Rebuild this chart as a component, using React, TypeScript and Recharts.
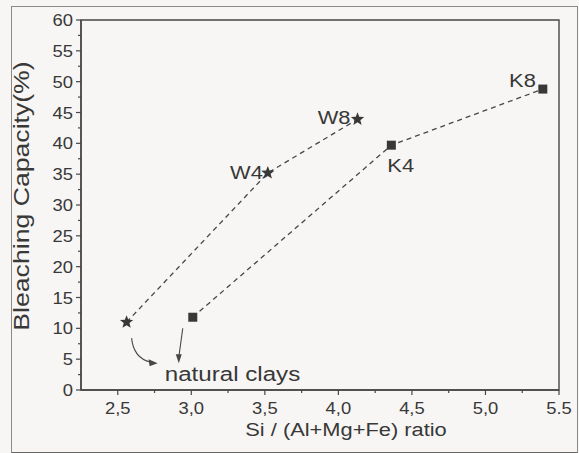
import { ScatterChart, Scatter, XAxis, YAxis, ReferenceArea, ReferenceDot } from "recharts";

// series
const W_RATIO = [2.56, 3.52, 4.13];
const W_BLEACH = [11.0, 35.2, 43.9];
const W_NAMES = ["", "W4", "W8"];

const K_RATIO = [3.01, 4.36, 5.39];
const K_BLEACH = [11.8, 39.7, 48.8];
const K_NAMES = ["", "K4", "K8"];

const X_TICKS = [2.5, 2.75, 3, 3.25, 3.5, 3.75, 4, 4.25, 4.5, 4.75, 5, 5.25, 5.5];
const Y_TICKS = [
  0, 2.5, 5, 7.5, 10, 12.5, 15, 17.5, 20, 22.5, 25, 27.5, 30,
  32.5, 35, 37.5, 40, 42.5, 45, 47.5, 50, 52.5, 55, 57.5, 60,
];

const INK = "#383838";
const LINE = "#474747";
const FONT = "'Liberation Sans', Arial, sans-serif";
const SX = 1.15; // the scan is a bit wider than it is tall

const wData = W_RATIO.map((x, i) => ({ x, y: W_BLEACH[i], name: W_NAMES[i] }));
const kData = K_RATIO.map((x, i) => ({ x, y: K_BLEACH[i], name: K_NAMES[i] }));

// where each point label sits relative to its marker
const LABEL_POS: Record<string, { dx: number; dy: number; anchor: "start" | "end" }> = {
  W4: { dx: -5, dy: 6, anchor: "end" },
  W8: { dx: -7, dy: 5, anchor: "end" },
  K4: { dx: -4, dy: 27, anchor: "start" },
  K8: { dx: -7, dy: -2, anchor: "end" },
};

function SText({ x, y, size, anchor = "start", children }: any) {
  return (
    <text
      transform={`translate(${x},${y}) scale(${SX},1)`}
      textAnchor={anchor}
      fontSize={size}
      fontFamily={FONT}
      fill={INK}
    >
      {children}
    </text>
  );
}

function PointLabel({ cx, cy, name }: any) {
  const p = LABEL_POS[name];
  if (!p) return null;
  return (
    <SText x={cx + p.dx} y={cy + p.dy} size={19} anchor={p.anchor}>
      {name}
    </SText>
  );
}

function Star(props: any) {
  const { cx, cy, payload } = props;
  const pts: string[] = [];
  for (let i = 0; i < 10; i++) {
    const r = i % 2 === 0 ? 7 : 3;
    const a = -Math.PI / 2 + (i * Math.PI) / 5;
    pts.push(`${cx + r * Math.cos(a)},${cy + r * Math.sin(a)}`);
  }
  return (
    <g>
      <polygon points={pts.join(" ")} fill={INK} />
      <PointLabel cx={cx} cy={cy} name={payload?.name} />
    </g>
  );
}

function Square(props: any) {
  const { cx, cy, payload } = props;
  return (
    <g>
      <rect x={cx - 4.5} y={cy - 4.5} width={9} height={9} fill={INK} />
      <PointLabel cx={cx} cy={cy} name={payload?.name} />
    </g>
  );
}

function YTick({ x, y, payload }: any) {
  const major = payload.value % 5 === 0;
  return (
    <g>
      <line x1={x - (major ? 5 : 3)} x2={x} y1={y} y2={y} stroke={LINE} strokeWidth={1.2} />
      {major && (
        <SText x={x - 8} y={y + 6} size={16} anchor="end">
          {payload.value}
        </SText>
      )}
    </g>
  );
}

function XTick({ x, y, payload }: any) {
  const major = Number.isInteger(payload.value * 2);
  const label = payload.value === 5.5 ? "5.5" : payload.value.toFixed(1).replace(".", ",");
  return (
    <g>
      <line x1={x} x2={x} y1={y} y2={y + (major ? 5 : 3)} stroke={LINE} strokeWidth={1.2} />
      {major && (
        <SText x={x} y={y + 24} size={16} anchor="middle">
          {label}
        </SText>
      )}
    </g>
  );
}

function XTitle({ viewBox }: any) {
  const { x, y, width } = viewBox;
  return (
    <SText x={x + width / 2 + 26} y={y + 46} size={19} anchor="middle">
      Si / (Al+Mg+Fe) ratio
    </SText>
  );
}

function YTitle({ viewBox }: any) {
  const { x, y, height } = viewBox;
  const cx = x + 9;
  const cy = y + height / 2 - 9;
  return (
    <text
      transform={`translate(${cx},${cy}) rotate(-90) scale(1.11,0.92)`}
      textAnchor="middle"
      fontSize={24}
      fontFamily={FONT}
      fill={INK}
    >
      Bleaching Capacity(%)
    </text>
  );
}

function StarArrow({ cx, cy }: any) {
  return (
    <g stroke={LINE} strokeWidth={1.1} fill="none">
      <path d={`M${cx + 5},${cy + 16} Q${cx + 7},${cy + 36} ${cx + 24},${cy + 40}`} />
      <polygon
        points={`${cx + 31},${cy + 41} ${cx + 22},${cy + 37} ${cx + 23},${cy + 44}`}
        fill={LINE}
        stroke="none"
      />
    </g>
  );
}

function SquareArrow({ cx, cy }: any) {
  return (
    <g>
      <line x1={cx - 10} y1={cy + 11} x2={cx - 14} y2={cy + 40} stroke={LINE} strokeWidth={1.1} />
      <polygon
        points={`${cx - 14},${cy + 46} ${cx - 17},${cy + 37} ${cx - 11},${cy + 37}`}
        fill={LINE}
      />
      <SText x={cx - 28} y={cy + 64} size={21}>
        natural clays
      </SText>
    </g>
  );
}

export default function App() {
  return (
    <div
      style={{
        position: "absolute",
        left: 0,
        top: 0,
        width: 579,
        height: 453,
        background: "#f7f6f4",
      }}
    >
      <div
        style={{
          position: "absolute",
          left: 11,
          top: 6,
          width: 565,
          height: 445,
          border: "1px solid #8a8a8a",
          borderBottom: "2px solid #666",
        }}
      />
      <div style={{ position: "absolute", left: 0, top: 0 }}>
        <ScatterChart
          width={579}
          height={453}
          margin={{ top: 20, right: 20, left: 20, bottom: 20 }}
        >
          <XAxis
            type="number"
            dataKey="x"
            domain={[2.25, 5.5]}
            ticks={X_TICKS}
            interval={0}
            tickSize={0}
            tickMargin={0}
            tickLine={false}
            tick={<XTick />}
            height={43}
            axisLine={{ stroke: LINE, strokeWidth: 1.4 }}
            label={XTitle}
            allowDataOverflow
          />
          <YAxis
            type="number"
            dataKey="y"
            domain={[0, 60]}
            ticks={Y_TICKS}
            interval={0}
            tickSize={0}
            tickMargin={0}
            tickLine={false}
            tick={<YTick />}
            width={61}
            axisLine={{ stroke: LINE, strokeWidth: 1.4 }}
            label={YTitle}
            allowDataOverflow
          />
          <ReferenceArea
            x1={2.25}
            x2={5.5}
            y1={0}
            y2={60}
            fill="none"
            stroke={LINE}
            strokeWidth={1.4}
            ifOverflow="visible"
          />
          <Scatter
            data={wData}
            shape={<Star />}
            line={{ stroke: LINE, strokeWidth: 1.3, strokeDasharray: "5 4" }}
            lineType="joint"
            isAnimationActive={false}
          />
          <Scatter
            data={kData}
            shape={<Square />}
            line={{ stroke: LINE, strokeWidth: 1.3, strokeDasharray: "5 4" }}
            lineType="joint"
            isAnimationActive={false}
          />
          <ReferenceDot
            x={W_RATIO[0]}
            y={W_BLEACH[0]}
            r={0}
            shape={<StarArrow />}
            ifOverflow="visible"
          />
          <ReferenceDot
            x={K_RATIO[0]}
            y={K_BLEACH[0]}
            r={0}
            shape={<SquareArrow />}
            ifOverflow="visible"
          />
        </ScatterChart>
      </div>
    </div>
  );
}
